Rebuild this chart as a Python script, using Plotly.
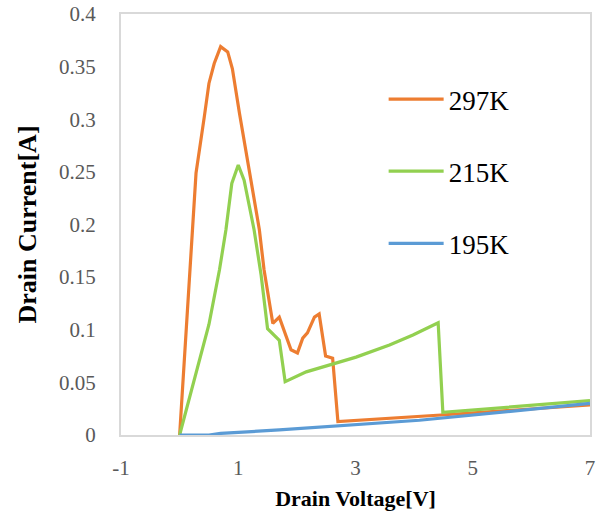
import plotly.graph_objects as go

# 297K
v297 = [0, 0.22, 0.28, 0.42, 0.50, 0.59, 0.70, 0.82, 0.90, 1.02, 1.19, 1.36, 1.44, 1.59, 1.70, 1.90, 2.01, 2.10, 2.18, 2.30, 2.38, 2.49, 2.61, 2.70, 4.46, 7.0]
i297 = [0, 0.195, 0.249, 0.302, 0.334, 0.353, 0.369, 0.364, 0.348, 0.306, 0.252, 0.195, 0.157, 0.106, 0.112, 0.081, 0.078, 0.092, 0.097, 0.112, 0.115, 0.075, 0.073, 0.0127, 0.019, 0.0285]
# 215K
v215 = [0, 0.25, 0.50, 0.68, 0.79, 0.89, 1.00, 1.10, 1.19, 1.27, 1.39, 1.50, 1.70, 1.80, 2.16, 2.61, 3.01, 3.58, 3.98, 4.41, 4.49, 7.0]
i215 = [0, 0.052, 0.105, 0.157, 0.195, 0.239, 0.2565, 0.242, 0.217, 0.195, 0.152, 0.101, 0.090, 0.0507, 0.060, 0.0675, 0.074, 0.0855, 0.095, 0.1067, 0.0215, 0.0326]
# 195K
v195 = [0, 0.5, 0.7, 1.7, 4.09, 7.0]
i195 = [0, 0, 0.0015, 0.0048, 0.014, 0.030]

series = [("297K", v297, i297, "#ED7D31"),
          ("215K", v215, i215, "#92D050"),
          ("195K", v195, i195, "#5B9BD5")]

xticks = [-1, 1, 3, 5, 7]
yticks = [0, 0.05, 0.1, 0.15, 0.2, 0.25, 0.3, 0.35, 0.4]
ytick_text = ["0", "0.05", "0.1", "0.15", "0.2", "0.25", "0.3", "0.35", "0.4"]

FONT = "Liberation Serif, Times New Roman, serif"
tickfont = dict(family=FONT, size=21, color="#595959")

fig = go.Figure()
for name, xs, ys, col in series:
    fig.add_trace(go.Scatter(x=xs, y=ys, mode="lines", name=name,
                             line=dict(color=col, width=3.2),
                             legendgroup=name))

fig.update_layout(
    width=598, height=511,
    margin=dict(l=121, r=8, t=14, b=76),
    paper_bgcolor="white", plot_bgcolor="white",
    font=dict(family=FONT, color="#595959", size=21),
    showlegend=True,
    legend=dict(x=0.56, y=0.855, xanchor="left", yanchor="top",
                font=dict(family=FONT, size=27, color="black"),
                tracegroupgap=34, itemwidth=55,
                bgcolor="rgba(0,0,0,0)"),
    xaxis=dict(range=[-1, 7], tickvals=xticks, ticktext=[str(t) for t in xticks],
               showgrid=False, zeroline=False, automargin=False,
               showline=True, linecolor="#D9D9D9", linewidth=2, mirror=True,
               ticks="", ticklabelstandoff=13, tickfont=tickfont,
               title=dict(text="<b>Drain Voltage[V]</b>",
                          font=dict(family=FONT, size=22, color="black"),
                          standoff=12)),
    yaxis=dict(range=[0, 0.4], tickvals=yticks, ticktext=ytick_text,
               showgrid=False, zeroline=False, automargin=False,
               showline=True, linecolor="#D9D9D9", linewidth=2, mirror=True,
               ticks="", ticklabelstandoff=19, tickfont=tickfont,
               title=dict(text="<b>Drain Current[A]</b>",
                          font=dict(family=FONT, size=26, color="black"),
                          standoff=15)),
)

fig.write_html("out.html")
